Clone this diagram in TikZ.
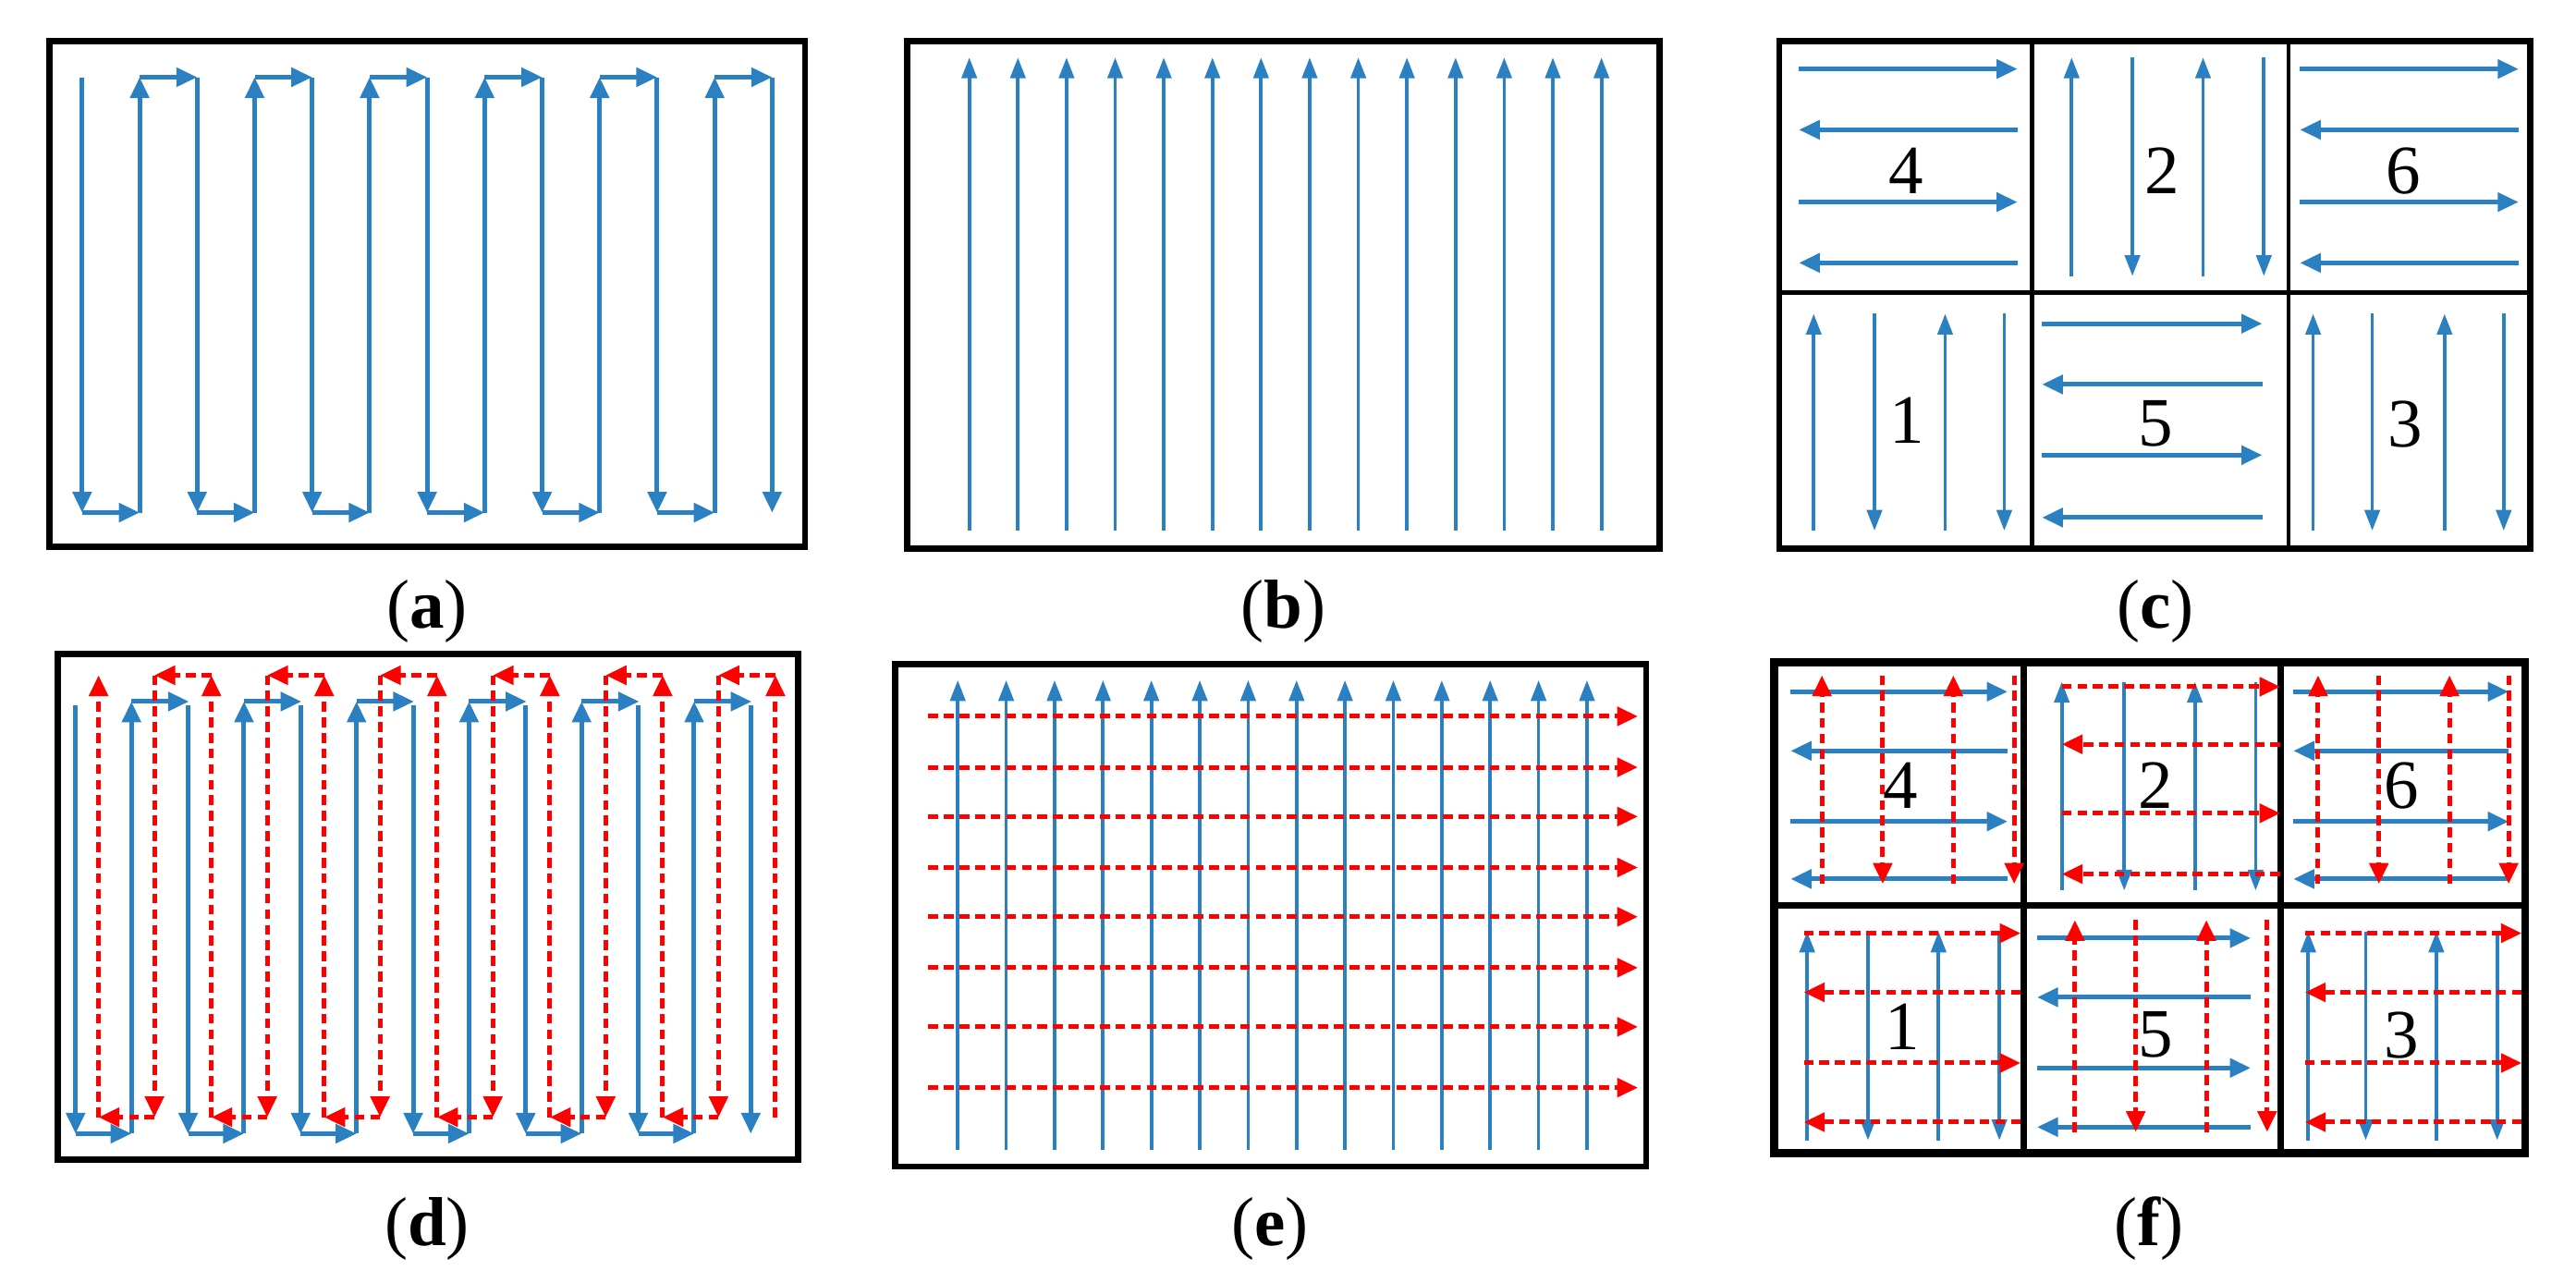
\documentclass[tikz,border=0pt]{standalone}
\usepackage{fontspec}
\setmainfont{Liberation Serif}
\usetikzlibrary{arrows.meta}
\definecolor{pathBlue}{RGB}{42,128,192}
\tikzset{
  frame/.style={line width=1.1pt},
  cellLine/.style={line width=0.7pt},
  bluePass/.style={pathBlue,line width=0.8pt,-{Triangle[length=3.6pt,width=3.2pt]}},
  thinPass/.style={pathBlue,line width=0.6pt,-{Triangle[length=3.6pt,width=2.6pt]}},
  redPass/.style={red,line width=0.8pt,dash pattern=on 1.7pt off 1pt,-{Triangle[length=3.6pt,width=3.2pt]}},
  subLabel/.style={font=\fontsize{12}{12}\selectfont},
  cellNum/.style={font=\fontsize{12}{12}\selectfont}
}
\begin{document}
\begin{tikzpicture}[x=0.01cm,y=-0.01cm]
  \useasboundingbox (0,0) rectangle (1568,773.6);

  % (a) boustrophedon
  \draw[frame] (30,25) rectangle (490,333);
  \foreach \i in {0,...,6} \draw[bluePass] ({50+70*\i},47) -- ({50+70*\i},312);
  \foreach \i in {0,...,5}
  {
    \draw[bluePass] ({50+70*\i},312) -- ({85+70*\i},312);
    \draw[bluePass] ({85+70*\i},312) -- ({85+70*\i},47);
    \draw[bluePass] ({85+70*\i},47) -- ({120+70*\i},47);
  }
  \node[subLabel] (la) at (260,372) {(\textbf{a})};

  % (b) parallel passes
  \draw[frame] (552,25) rectangle (1010,334);
  \foreach \i in {0,...,13} \draw[thinPass] ({590+29.6*\i},323) -- ({590+29.6*\i},35);
  \node[subLabel] (lb) at (781,372) {(\textbf{b})};

  % (c) cells
  \draw[frame] (1083,25) rectangle (1540,334);
  \draw[cellLine] (1237,25) -- (1237,334) (1393,25) -- (1393,334) (1083,178) -- (1540,178);
  \foreach \sty/\xa/\xb/\ya/\yb/\yc/\yd in {bluePass/1095/1228/42/79/123/160, bluePass/1400/1533/42/79/123/160, bluePass/1243/1377/197/234/277/315}
  {
    \draw[\sty] (\xa,\ya) -- (\xb,\ya);
    \draw[\sty] (\xb,\yb) -- (\xa,\yb);
    \draw[\sty] (\xa,\yc) -- (\xb,\yc);
    \draw[\sty] (\xb,\yd) -- (\xa,\yd);
  }
  \foreach \sty/\ya/\yb/\xa/\xb/\xc/\xd in {thinPass/35/168/1261/1298/1341/1378, thinPass/191/323/1104/1141/1184/1220, thinPass/191/323/1408/1444/1488/1524}
  {
    \draw[\sty] (\xa,\yb) -- (\xa,\ya);
    \draw[\sty] (\xb,\ya) -- (\xb,\yb);
    \draw[\sty] (\xc,\yb) -- (\xc,\ya);
    \draw[\sty] (\xd,\ya) -- (\xd,\yb);
  }
  \foreach \n/\x/\y in {4/1160/104, 2/1316/104, 6/1463/104, 1/1161/256, 5/1312/258, 3/1464/258}
    \node[cellNum] (c\n) at (\x,\y) {\n};
  \node[subLabel] (lc) at (1312,372) {(\textbf{c})};

  % (d) double boustrophedon
  \draw[frame] (35,398) rectangle (486,706);
  \foreach \i in {0,...,6} \draw[bluePass] ({46+68.5*\i},429) -- ({46+68.5*\i},690);
  \foreach \i in {0,...,5}
  {
    \draw[bluePass] ({46+68.5*\i},690) -- ({80+68.5*\i},690);
    \draw[bluePass] ({80+68.5*\i},690) -- ({80+68.5*\i},427);
    \draw[bluePass] ({80+68.5*\i},427) -- ({115+68.5*\i},427);
  }
  \draw[redPass] (472,680) -- (472,411);
  \foreach \i in {5,...,0}
  {
    \draw[redPass] ({60+68.67*(\i+1)},411) -- ({94+68.67*\i},411);
    \draw[redPass] ({94+68.67*\i},411) -- ({94+68.67*\i},680);
    \draw[redPass] ({94+68.67*\i},680) -- ({60+68.67*\i},680);
    \draw[redPass] ({60+68.67*\i},680) -- ({60+68.67*\i},411);
  }
  \node[subLabel] (ld) at (260,748) {(\textbf{d})};

  % (e) crossing passes
  \draw[frame] (545,404) rectangle (1002,710);
  \foreach \i in {0,...,13} \draw[thinPass] ({583+29.46*\i},700) -- ({583+29.46*\i},414);
  \foreach \y in {436,467,497,528,558,589,625,662} \draw[redPass] (565,\y) -- (997,\y);
  \node[subLabel] (le) at (773,748) {(\textbf{e})};

  % (f) cells, both directions
  \draw[frame,line width=1.4pt] (1080,403) rectangle (1537,702);
  \draw[frame] (1232,403) -- (1232,702) (1388,403) -- (1388,702) (1080,551) -- (1537,551);
  \foreach \sty/\xa/\xb/\ya/\yb/\yc/\yd in {bluePass/1090/1222/421/457/500/535, bluePass/1396/1527/421/457/500/535, bluePass/1240/1370/571/607/650/686}
  {
    \draw[\sty] (\xa,\ya) -- (\xb,\ya);
    \draw[\sty] (\xb,\yb) -- (\xa,\yb);
    \draw[\sty] (\xa,\yc) -- (\xb,\yc);
    \draw[\sty] (\xb,\yd) -- (\xa,\yd);
  }
  \foreach \sty/\ya/\yb/\xa/\xb/\xc/\xd in {thinPass/415/542/1255/1293/1336/1373, thinPass/567/694/1100/1137/1180/1217, thinPass/567/694/1405/1440/1483/1520}
  {
    \draw[\sty] (\xa,\yb) -- (\xa,\ya);
    \draw[\sty] (\xb,\ya) -- (\xb,\yb);
    \draw[\sty] (\xc,\yb) -- (\xc,\ya);
    \draw[\sty] (\xd,\ya) -- (\xd,\yb);
  }
  \foreach \sty/\xa/\xb/\ya/\yb/\yc/\yd in {redPass/1255/1388/418/453/495/532, redPass/1098/1230/568/604/647/683, redPass/1403/1535/568/604/647/683}
  {
    \draw[\sty] (\xa,\ya) -- (\xb,\ya);
    \draw[\sty] (\xb,\yb) -- (\xa,\yb);
    \draw[\sty] (\xa,\yc) -- (\xb,\yc);
    \draw[\sty] (\xb,\yd) -- (\xa,\yd);
  }
  \foreach \sty/\ya/\yb/\xa/\xb/\xc/\xd in {redPass/411/538/1109/1146/1189/1226, redPass/411/538/1411/1448/1491/1527, redPass/560/689/1263/1300/1343/1380}
  {
    \draw[\sty] (\xa,\yb) -- (\xa,\ya);
    \draw[\sty] (\xb,\ya) -- (\xb,\yb);
    \draw[\sty] (\xc,\yb) -- (\xc,\ya);
    \draw[\sty] (\xd,\ya) -- (\xd,\yb);
  }
  \foreach \n/\x/\y in {4/1157/478, 2/1312/478, 6/1462/478, 1/1158/625, 5/1312/630, 3/1462/630}
    \node[cellNum] (f\n) at (\x,\y) {\n};
  \node[subLabel] (lf) at (1308,748) {(\textbf{f})};
\end{tikzpicture}
\end{document}
